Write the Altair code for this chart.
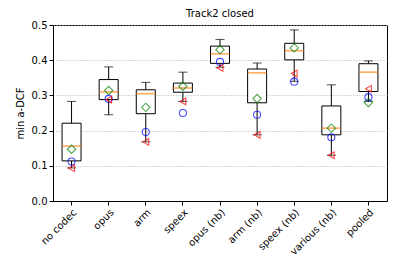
import altair as alt
import pandas as pd

categories = ["no codec", "opus", "arm", "speex", "opus (nb)", "arm (nb)", "speex (nb)", "various (nb)", "pooled"]
whisk_lo = [0.094, 0.245, 0.168, 0.283, 0.380, 0.188, 0.340, 0.130, 0.283]
q1 = [0.114, 0.288, 0.248, 0.309, 0.391, 0.279, 0.401, 0.188, 0.311]
median = [0.156, 0.310, 0.305, 0.321, 0.418, 0.364, 0.427, 0.207, 0.366]
q3 = [0.221, 0.345, 0.316, 0.335, 0.440, 0.375, 0.448, 0.270, 0.390]
whisk_hi = [0.283, 0.381, 0.337, 0.366, 0.459, 0.392, 0.486, 0.330, 0.398]
diamond_vals = [0.147, 0.314, 0.266, 0.326, 0.430, 0.291, 0.435, 0.207, 0.280]
circle_vals = [0.112, 0.290, 0.196, 0.250, 0.395, 0.245, 0.339, 0.181, 0.295]
triangle_vals = [0.093, 0.288, 0.168, 0.283, 0.378, 0.188, 0.362, 0.130, 0.319]

df = pd.DataFrame({
    "cat": categories, "lo": whisk_lo, "q1": q1, "med": median, "q3": q3, "hi": whisk_hi,
    "dia": diamond_vals, "circ": circle_vals, "tri": triangle_vals,
})

FONT = "DejaVu Sans"
xenc = alt.X("cat:N", sort=categories, title=None,
             scale=alt.Scale(paddingInner=0, paddingOuter=0),
             axis=alt.Axis(labelAngle=-45, labelAlign="right", labelBaseline="top",
                           tickSize=4, tickColor="black", domainColor="black",
                           labelColor="black", labelFontSize=10, labelFont=FONT,
                           labelPadding=2, grid=False))
yscale = alt.Scale(domain=[0, 0.5], nice=False)
yaxis = alt.Axis(values=[0, 0.1, 0.2, 0.3, 0.4, 0.5], format=".1f", title="min a-DCF",
                 titleFontWeight="normal", titleFontSize=10, titleFont=FONT, titleColor="black",
                 titlePadding=6,
                 labelFontSize=10, labelFont=FONT, labelColor="black", labelPadding=2,
                 tickSize=4, tickColor="black", domainColor="black",
                 grid=True, gridDash=[1, 2], gridColor="#b0b0b0", gridWidth=1)

base = alt.Chart(df)

lower = base.mark_rule(color="black", strokeWidth=1).encode(
    x=xenc, y=alt.Y("lo:Q", scale=yscale, axis=yaxis), y2="q1:Q")
upper = base.mark_rule(color="black", strokeWidth=1).encode(
    x=xenc, y=alt.Y("q3:Q", scale=yscale, axis=yaxis), y2="hi:Q")
cap_lo = base.mark_tick(color="black", size=9, thickness=1).encode(
    x=xenc, y=alt.Y("lo:Q", scale=yscale, axis=yaxis))
cap_hi = base.mark_tick(color="black", size=9, thickness=1).encode(
    x=xenc, y=alt.Y("hi:Q", scale=yscale, axis=yaxis))
box = base.mark_bar(width=19, fill="white", stroke="black", strokeWidth=1).encode(
    x=xenc, y=alt.Y("q1:Q", scale=yscale, axis=yaxis), y2="q3:Q")
med = base.mark_tick(color="#ff7f0e", size=19, thickness=1.5).encode(
    x=xenc, y=alt.Y("med:Q", scale=yscale, axis=yaxis))
dia = base.mark_point(shape="diamond", filled=False, color="#008000", size=70, strokeWidth=1.1).encode(
    x=xenc, y=alt.Y("dia:Q", scale=yscale, axis=yaxis))
circ = base.mark_point(shape="circle", filled=False, color="#0000ff", size=50, strokeWidth=1.1).encode(
    x=xenc, y=alt.Y("circ:Q", scale=yscale, axis=yaxis))
tri = base.mark_point(shape="triangle-left", filled=False, color="#ff0000", size=45, strokeWidth=1.1).encode(
    x=xenc, y=alt.Y("tri:Q", scale=yscale, axis=yaxis))

chart = alt.layer(lower, upper, box, cap_lo, cap_hi, med, dia, circ, tri).properties(
    width=334, height=176,
    title=alt.TitleParams("Track2 closed", fontSize=10, fontWeight="normal", font=FONT,
                          color="black", anchor="middle", offset=1),
    autosize="none",
    padding={"left": 45, "top": 17, "right": 1, "bottom": 64},
).configure_view(stroke="black", strokeWidth=1)

chart.save("out.html", embed_options={"renderer": "svg", "actions": False})
